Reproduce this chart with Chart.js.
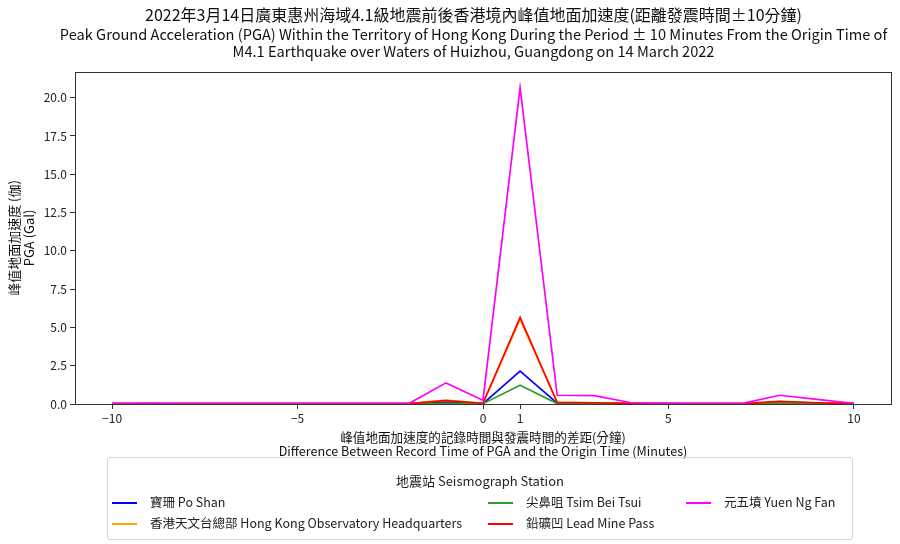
<!DOCTYPE html>
<html>
<head>
<meta charset="utf-8">
<script src="https://cdn.jsdelivr.net/npm/chart.js@4.4.1/dist/chart.umd.min.js"></script>
<style>
  body { margin: 0; background: #fff; }
  #wrap { position: relative; width: 900px; height: 544px; }
  #legend {
    position: absolute; left: 107px; top: 457px; width: 744px; height: 81px;
    border: 1px solid #d4d4d4; border-radius: 3px;
    font-family: 'Noto Sans CJK TC', 'Noto Sans', sans-serif; font-size: 12.5px; color: #222;
  }
  #legend .ttl { position: absolute; left: 0; right: 0; top: 14px; text-align: center; line-height: 18px; font-size: 13px; }
  #legend .item { position: absolute; height: 18px; line-height: 18px; white-space: nowrap; }
  #legend .item span.h { display: inline-block; width: 25px; height: 2px; vertical-align: middle; margin-right: 13px; position: relative; top: -1px; }
</style>
</head>
<body>
<div id="wrap">
  <canvas id="pgaChart" width="900" height="544"></canvas>
  <div id="legend"></div>
</div>
<script>
// 數據 (分鐘 / Gal)
const minutes = [-10, -9, -8, -7, -6, -5, -4, -3, -2, -1, 0, 1, 2, 3, 4, 5, 6, 7, 8, 9, 10];
const poShan    = [0.02, 0.02, 0.02, 0.02, 0.02, 0.02, 0.02, 0.02, 0.02, 0.10, 0.02, 2.15, 0.05, 0.04, 0.03, 0.03, 0.02, 0.02, 0.08, 0.04, 0.02];
const hkoHq     = [0.02, 0.03, 0.02, 0.02, 0.02, 0.02, 0.02, 0.02, 0.03, 0.25, 0.05, 5.50, 0.10, 0.07, 0.04, 0.03, 0.02, 0.03, 0.15, 0.08, 0.03];
const tsimBeiTsui = [0.02, 0.02, 0.02, 0.02, 0.02, 0.02, 0.02, 0.02, 0.02, 0.05, 0.02, 1.22, 0.03, 0.03, 0.02, 0.02, 0.02, 0.02, 0.05, 0.03, 0.02];
const leadMine  = [0.02, 0.03, 0.02, 0.02, 0.02, 0.02, 0.02, 0.02, 0.03, 0.22, 0.05, 5.65, 0.10, 0.08, 0.04, 0.03, 0.02, 0.03, 0.17, 0.08, 0.03];
const yuenNgFan = [0.03, 0.05, 0.03, 0.03, 0.03, 0.03, 0.03, 0.03, 0.03, 1.38, 0.25, 20.65, 0.57, 0.55, 0.08, 0.05, 0.03, 0.04, 0.57, 0.30, 0.05];

const xTicks = [-10, -5, 0, 1, 5, 10];
const yTicks = [0, 2.5, 5, 7.5, 10, 12.5, 15, 17.5, 20];

const stationNames = [
  '寶珊 Po Shan',
  '香港天文台總部 Hong Kong Observatory Headquarters',
  '尖鼻咀 Tsim Bei Tsui',
  '鉛礦凹 Lead Mine Pass',
  '元五墳 Yuen Ng Fan'
];
const stationValues = [poShan, hkoHq, tsimBeiTsui, leadMine, yuenNgFan];
const stationColors = ['#0000ff', '#ffa500', '#2ca02c', '#ff0000', '#ff00ff'];

const FONT = "'Noto Sans CJK TC', 'Noto Sans', sans-serif";

// 外框
const frame = {
  id: 'frame',
  afterDatasetsDraw(chart) {
    const { ctx, chartArea: a } = chart;
    ctx.save();
    ctx.strokeStyle = '#333';
    ctx.lineWidth = 1;
    ctx.strokeRect(Math.round(a.left) + 0.5, Math.round(a.top) + 0.5,
      Math.round(a.right - a.left), Math.round(a.bottom - a.top));
    ctx.restore();
  }
};

// 標題稍微向右移
const titleShift = {
  id: 'titleShift',
  afterLayout(chart) {
    chart.boxes.forEach(b => {
      if (b.position === 'top' && b.fullSize) b.left += 56;
    });
  }
};

const datasets = stationNames.map((name, i) => ({
  label: name,
  data: minutes.map((m, j) => ({ x: m, y: stationValues[i][j] })),
  borderColor: stationColors[i],
  backgroundColor: stationColors[i],
  borderWidth: 1.7,
  pointRadius: 0,
  fill: false,
  tension: 0,
  clip: 4,
  order: stationNames.length - i
}));

const ctx = document.getElementById('pgaChart').getContext('2d');
const pgaChart = new Chart(ctx, {
  type: 'line',
  data: { datasets },
  options: {
    responsive: false,
    animation: false,
    layout: { padding: { left: 0, right: 9, top: 0, bottom: 84 } },
    plugins: {
      legend: { display: false },
      tooltip: { enabled: false },
      title: {
        display: true,
        text: '2022年3月14日廣東惠州海域4.1級地震前後香港境內峰值地面加速度(距離發震時間±10分鐘)',
        color: '#111',
        font: { family: FONT, size: 16, weight: 'normal', lineHeight: 1.15 },
        padding: { top: 6, bottom: 0 }
      },
      subtitle: {
        display: true,
        text: [
          'Peak Ground Acceleration (PGA) Within the Territory of Hong Kong During the Period ± 10 Minutes From the Origin Time of',
          'M4.1 Earthquake over Waters of Huizhou, Guangdong on 14 March 2022'
        ],
        color: '#111',
        font: { family: FONT, size: 14.6, weight: 'normal', lineHeight: 1.23 },
        padding: { top: 0.6, bottom: 11 }
      }
    },
    scales: {
      x: {
        type: 'linear',
        min: -11,
        max: 11,
        afterBuildTicks: s => { s.ticks = xTicks.map(v => ({ value: v })); },
        afterFit: s => { s.height = 56; },
        ticks: {
          color: '#222',
          font: { family: FONT, size: 12 },
          padding: 2,
          maxRotation: 0,
          callback: v => v < 0 ? '\u2212' + Math.abs(v) : String(v)
        },
        grid: { display: true, drawOnChartArea: false, drawTicks: true, tickLength: 5, color: '#333' },
        border: { display: false },
        title: {
          display: true,
          text: ['峰值地面加速度的記錄時間與發震時間的差距(分鐘)', 'Difference Between Record Time of PGA and the Origin Time (Minutes)'],
          color: '#111',
          font: { family: FONT, size: 12.6, lineHeight: 1.1 },
          padding: { top: 2, bottom: 2 }
        }
      },
      y: {
        min: 0,
        max: 21.68,
        afterBuildTicks: s => { s.ticks = yTicks.map(v => ({ value: v })); },
        afterFit: s => { s.width = 75; },
        ticks: {
          color: '#222',
          font: { family: FONT, size: 12 },
          padding: 3,
          callback: v => v.toFixed(1)
        },
        grid: { display: true, drawOnChartArea: false, drawTicks: true, tickLength: 5, color: '#333' },
        border: { display: false },
        title: {
          display: true,
          text: ['峰值地面加速度 (伽)', 'PGA (Gal)'],
          color: '#111',
          font: { family: FONT, size: 13, lineHeight: 1.2 },
          padding: { top: 6, bottom: 0 }
        }
      }
    }
  },
  plugins: [frame, titleShift]
});

// 圖例 (3 欄)
const legendSlots = [
  { left: 4, top: 35 }, { left: 4, top: 56 },
  { left: 380, top: 35 }, { left: 380, top: 56 },
  { left: 578, top: 35 }
];
const legendEl = document.getElementById('legend');
const ttl = document.createElement('div');
ttl.className = 'ttl';
ttl.textContent = '地震站 Seismograph Station';
legendEl.appendChild(ttl);
pgaChart.data.datasets.forEach((ds, i) => {
  const item = document.createElement('div');
  item.className = 'item';
  item.style.left = legendSlots[i].left + 'px';
  item.style.top = legendSlots[i].top + 'px';
  const h = document.createElement('span');
  h.className = 'h';
  h.style.background = ds.borderColor;
  item.appendChild(h);
  item.appendChild(document.createTextNode(ds.label));
  legendEl.appendChild(item);
});
</script>
</body>
</html>
